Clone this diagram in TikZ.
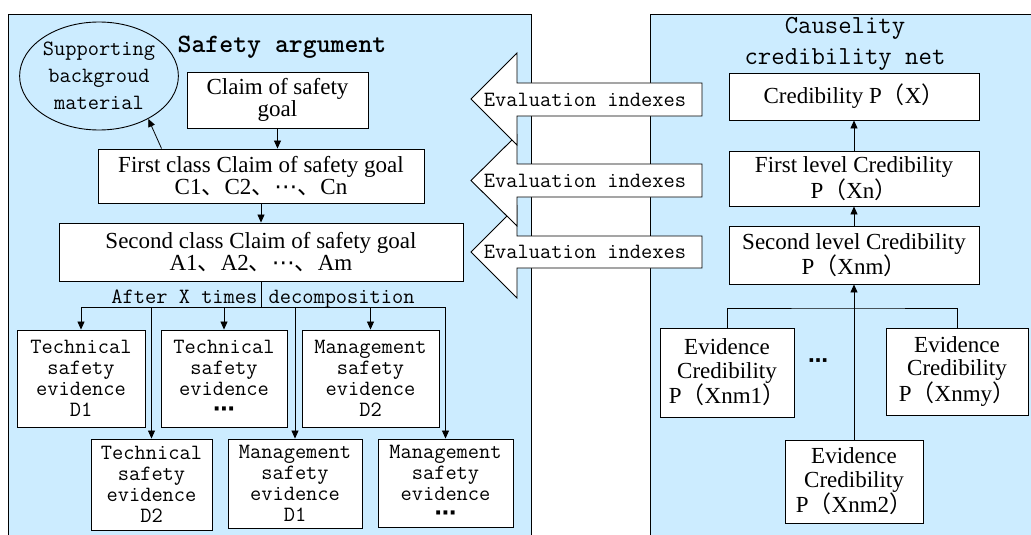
\documentclass[tikz,border=0pt]{standalone}
\usepackage{fontspec}
\setmainfont{Liberation Serif}
\newfontfamily\cjk{Noto Sans CJK SC}
\newfontfamily\dvs{DejaVu Sans}
\usetikzlibrary{arrows.meta,shapes.geometric}

\definecolor{panelblue}{RGB}{204,236,255}

% full-width punctuation and centred ellipsis
\newcommand\lpar{{\cjk （}}
\newcommand\rpar{{\cjk ）}}
\newcommand\dun{{\cjk 、}}
\newcommand\midots{{\dvs ⋯}}
\newcommand\bigdots{{\dvs\bfseries ⋯}}

\tikzset{
  panel/.style={fill=panelblue},
  frame/.style={draw=black, line width=0.9pt},
  box/.style={draw=black, fill=white, line width=0.9pt, inner sep=0pt, align=center},
  serif/.style={font=\fontsize{23}{21.5}\selectfont},
  serifev/.style={font=\fontsize{23}{23.5}\selectfont},
  mono/.style={font=\ttfamily\fontsize{21.8}{20.8}\selectfont},
  link/.style={draw=black, line width=0.8pt},
  arr/.style={link, -{Triangle[length=8pt,width=7pt]}},
  evalarrow/.style={draw=black, fill=white, line width=0.9pt, line join=miter},
}

\begin{document}
\begin{tikzpicture}[x=1pt, y=-1pt]
\useasboundingbox (0,0) rectangle (1031,535);

% panels
\fill[panel] (8,14) rectangle (531,535);
\draw[frame] (8,535) -- (8,14) -- (531,14) -- (531,535);
\fill[panel] (650,14) rectangle (1031,535);
\draw[frame] (650,535) -- (650,14) -- (1031,14);

% ---- safety argument ----
\node[font=\ttfamily\bfseries\fontsize{26.5}{30}\selectfont] (argtitle) at (282,47) {Safety argument};
\node[ellipse, draw=black, line width=0.9pt, minimum width=156pt, minimum height=108pt, inner sep=0pt,
      align=center, font=\ttfamily\fontsize{21.8}{27}\selectfont] (supp) at (99,76)
      {Supporting\\backgroud\\material};

\node[box, serif, minimum width=181pt, minimum height=56pt] (claim) at (277.5,100) {Claim of safety\\goal};
\node[box, serif, minimum width=326pt, minimum height=54pt] (first) at (261,176)
      {First class Claim of safety goal\\C1\dun C2\dun\midots\dun Cn};
\node[box, serif, minimum width=404pt, minimum height=58pt] (second) at (261,252)
      {Second class Claim of safety goal\\A1\dun A2\dun\midots\dun Am};

\node[box, mono, minimum width=128pt, minimum height=97pt] (t1) at (81,378.5) {Technical\\safety\\evidence\\D1};
\node[box, mono, minimum width=126pt, minimum height=97pt] (t2) at (224,378.5) {Technical\\safety\\evidence\\\bigdots};
\node[box, mono, minimum width=137pt, minimum height=97pt] (t3) at (370.5,378.5) {Management\\safety\\evidence\\D2};
\node[box, mono, minimum width=121pt, minimum height=91pt] (b4) at (151.5,484.5) {Technical\\safety\\evidence\\D2};
\node[box, mono, minimum width=134pt, minimum height=89pt] (b5) at (295,483.5) {Management\\safety\\evidence\\D1};
\node[box, mono, minimum width=135pt, minimum height=88pt] (b6) at (445.5,483) {Management\\safety\\evidence\\\bigdots};

\draw[arr] (claim.south) -- (claim.south |- first.north);
\draw[arr] (first.south) -- (second.north);
\draw[arr] ([xshift=64pt]first.north west) -- (supp.-41);

\coordinate (bus) at (261,307);
\draw[link] (second.south) -- (bus);
\draw[link] (t1.north |- bus) -- (b6.north |- bus);
\foreach \n in {t1,t2,t3,b4,b5,b6}
  \draw[arr] (\n.north |- bus) -- (\n.north);
\node[mono, anchor=base] (decomp) at (263,303) {After X times decomposition};

% ---- evaluation index arrows ----
\draw[evalarrow] (702,236) -- (517,236) -- (517,206) -- (471,252) -- (517,298) -- (517,268) -- (702,268) -- cycle;
\draw[evalarrow] (702,164) -- (517,164) -- (517,135) -- (471,180.5) -- (517,226) -- (517,197) -- (702,197) -- cycle;
\draw[evalarrow] (702,83) -- (517,83) -- (517,53) -- (471,99) -- (517,145) -- (517,116) -- (702,116) -- cycle;
\node[mono] (ev1) at (585,99.5) {Evaluation indexes};
\node[mono] (ev2) at (585,180.5) {Evaluation indexes};
\node[mono] (ev3) at (585,252) {Evaluation indexes};

% ---- causality credibility net ----
\node[font=\ttfamily\fontsize{26}{31}\selectfont, align=center] (nettitle) at (845,44) {Causelity\\credibility net};
\node[box, serif, minimum width=250pt, minimum height=47pt] (px) at (854,96.5) {Credibility P\lpar X\rpar};
\node[box, serif, minimum width=250pt, minimum height=55pt] (lvl1) at (854,178.5) {First level Credibility\\P\lpar Xn\rpar};
\node[box, serif, minimum width=250pt, minimum height=58pt] (lvl2) at (854,255) {Second level Credibility\\P\lpar Xnm\rpar};
\node[box, serifev, minimum width=134pt, minimum height=89pt] (e1) at (727,372.5) {Evidence\\Credibility\\P\lpar Xnm1\rpar};
\node[box, serifev, minimum width=142pt, minimum height=87pt] (ey) at (957,371.5) {Evidence\\Credibility\\P\lpar Xnmy\rpar};
\node[box, serifev, minimum width=138pt, minimum height=83pt] (e2) at (854,481.5) {Evidence\\Credibility\\P\lpar Xnm2\rpar};
\node[font=\dvs\bfseries\fontsize{20}{20}\selectfont] (gap) at (818,363) {⋯};

\draw[arr] (lvl1.north) -- (px.south);
\draw[arr] (lvl2.north) -- (lvl1.south);
\draw[arr] (e2.north) -- (lvl2.south);
\coordinate (join) at (854,308);
\draw[link] (e1.north) |- (join) -| (ey.north);

\end{tikzpicture}
\end{document}
